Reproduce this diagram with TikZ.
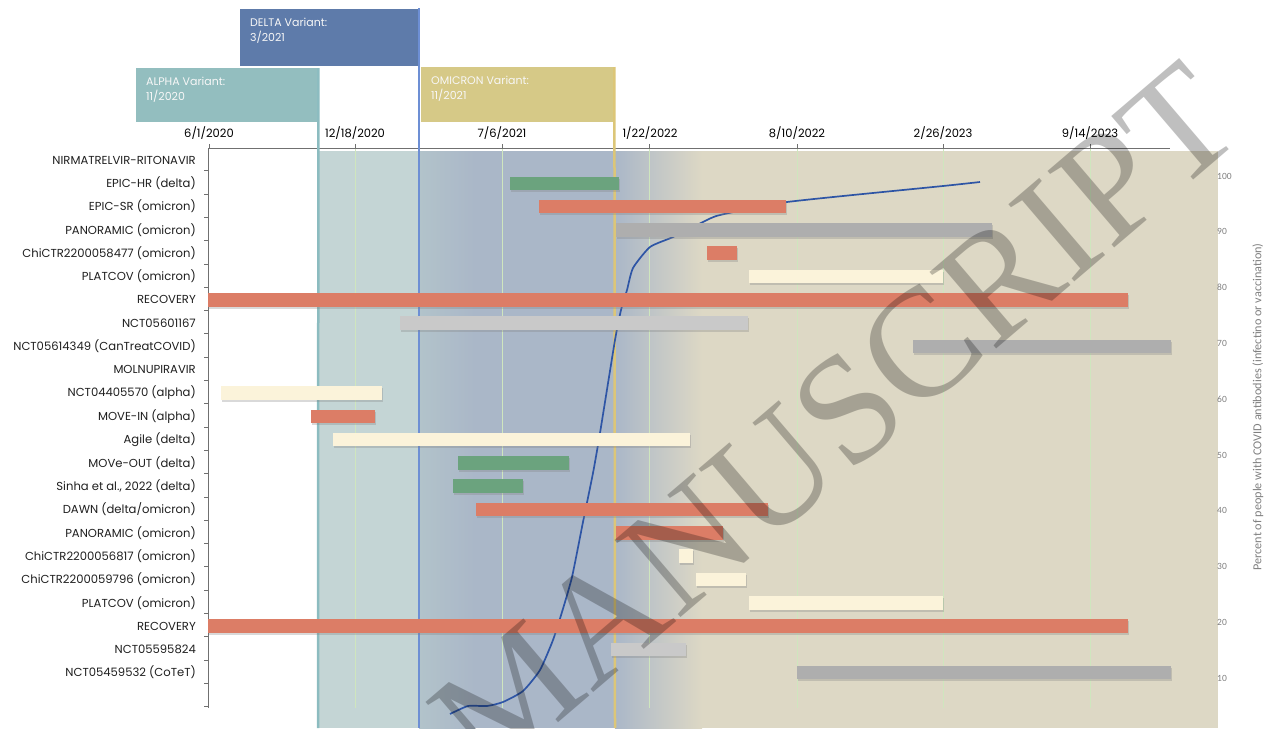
\documentclass[tikz,border=0pt]{standalone}
\usepackage{fontspec}
\setmainfont{Poppins}
\newfontfamily\carlito{Carlito}
\newfontfamily\wmfont{Liberation Serif}
\usetikzlibrary{shadows}
\definecolor{alphaC}{HTML}{93BEBF}
\definecolor{deltaC}{HTML}{5E7BAA}
\definecolor{omiC}{HTML}{D6C987}
\definecolor{alphaBg}{HTML}{C4D5D5}
\definecolor{deltaBgA}{HTML}{B2C3CA}
\definecolor{deltaBg}{HTML}{AAB7C8}
\definecolor{omiBg}{HTML}{DDD8C5}
\definecolor{alphaLine}{HTML}{8CBCC0}
\definecolor{deltaLine}{HTML}{6D8FD4}
\definecolor{omiLine}{HTML}{DCC678}
\definecolor{gridG}{HTML}{CFE6BE}
\definecolor{axisC}{HTML}{707070}
\definecolor{barO}{HTML}{DC7D66}
\definecolor{barG}{HTML}{6BA37E}
\definecolor{barY}{HTML}{AEAEAE}
\definecolor{barL}{HTML}{C9C9C9}
\definecolor{barC}{HTML}{FBF3DA}
\definecolor{curveC}{HTML}{2E55A5}
\definecolor{numC}{HTML}{808080}
\begin{document}
\begin{tikzpicture}[x=1pt,y=-1pt,
  rowlab/.style={anchor=east,inner sep=0,font=\fontsize{11.6}{12}\selectfont,text=black!88},
  datelab/.style={anchor=base,inner sep=0,font=\fontsize{11.5}{12}\selectfont},
  vbox/.style={anchor=north west,inner sep=0,draw=none},
  vtext/.style={anchor=north west,inner sep=0,align=left,text=white!94!gray,font=\fontsize{11}{15}\selectfont},
  bartype/.style={drop shadow={shadow xshift=1pt,shadow yshift=-2pt,opacity=0.3}},
  numlab/.style={anchor=west,inner sep=0,text=numC,font=\carlito\fontsize{9.5}{10}\selectfont},
]
\useasboundingbox (0,0) rectangle (1271,728);
% background regions
\fill[alphaBg] (318,151) rectangle (419,728);
\shade[left color=deltaBgA, right color=deltaBg] (419,151) rectangle (475,728);
\fill[deltaBg] (475,151) rectangle (615,728);
\shade[left color=deltaBg, right color=omiBg] (615,151) rectangle (702,728);
\fill[omiBg] (702,151) rectangle (1218,728);
% grid lines
\foreach \gx in {355,502,649,797,943,1090}
  \draw[gridG, line width=0.7] (\gx,149) -- (\gx,708);
% axes
\draw[axisC, line width=0.9] (208,148) -- (1170,148);
\foreach \gx in {209,355,502,649,797,943,1090}
  \draw[axisC, line width=0.8] (\gx,144) -- (\gx,148);
\draw[axisC, line width=0.9] (208,148) -- (208,708);
\foreach \k in {0,...,23}
  \draw[axisC, line width=0.8] (204,{170.7+23.3*\k}) -- (208,{170.7+23.3*\k});
% date labels
\node[datelab] (d1) at (209,137) {6/1/2020};
\node[datelab] (d2) at (355,137) {12/18/2020};
\node[datelab] (d3) at (502,137) {7/6/2021};
\node[datelab] (d4) at (650,137) {1/22/2022};
\node[datelab] (d5) at (797,137) {8/10/2022};
\node[datelab] (d6) at (943,137) {2/26/2023};
\node[datelab] (d7) at (1090,137) {9/14/2023};
% variant boxes
\node[vbox, fill=deltaC, minimum width=179, minimum height=57] (delta) at (240,9) {};
\node[vtext] (deltaT) at ([xshift=10pt,yshift=-9pt]delta.north west) {DELTA Variant:\\3/2021};
\node[vbox, fill=alphaC, minimum width=182, minimum height=54] (alpha) at (136,68) {};
\node[vtext] (alphaT) at ([xshift=10pt,yshift=-9pt]alpha.north west) {ALPHA Variant:\\11/2020};
\node[vbox, fill=omiC, minimum width=193, minimum height=55] (omi) at (421,67) {};
\node[vtext] (omiT) at ([xshift=10pt,yshift=-9pt]omi.north west) {OMICRON Variant:\\11/2021};
% variant lines
\draw[alphaLine, line width=2.5] (alpha.north east) -- (318,728);
\draw[deltaLine, line width=2] (419,8) -- (419,728);
\draw[omiLine, line width=2.5] (omi.north east) -- (615,728);
% curve
\draw[curveC, line width=1.7, smooth, tension=0.35] plot coordinates {
 (450,714) (468,706) (487,706) (503,702) (523,691) (540,670) (553,640) (562,612)
 (572,577) (583,522) (593,473) (600,433) (615,340) (621,310) (627,290) (633,268)
 (650,247) (673,237) (703,222) (720,215) (787,202) (943,186) (980,182)};
% row labels
\foreach \lab [count=\i from 0] in {NIRMATRELVIR-RITONAVIR, EPIC-HR (delta), EPIC-SR (omicron),
  PANORAMIC (omicron), ChiCTR2200058477 (omicron), PLATCOV (omicron), RECOVERY, NCT05601167,
  NCT05614349 (CanTreatCOVID), MOLNUPIRAVIR, NCT04405570 (alpha), MOVE-IN (alpha), Agile (delta),
  MOVe-OUT (delta), {Sinha et al., 2022 (delta)}, DAWN (delta/omicron), PANORAMIC (omicron),
  ChiCTR2200056817 (omicron), ChiCTR2200059796 (omicron), PLATCOV (omicron), RECOVERY,
  NCT05595824, NCT05459532 (CoTeT)}
  \node[rowlab] (row\i) at (196,{160+23.3*\i}) {\lab};
% bars
\foreach \r/\a/\b/\c in {1/510/619/barG, 2/539/786/barO, 3/616/992/barY, 4/707/737/barO,
  5/749/943/barC, 6/208/1128/barO, 7/400/748/barL, 8/913/1171/barY, 10/221/382/barC,
  11/311/375/barO, 12/333/690/barC, 13/458/569/barG, 14/453/523/barG, 15/476/768/barO,
  16/616/723/barO, 17/679/693/barC, 18/696/746/barC, 19/749/943/barC, 20/208/1128/barO,
  21/611/686/barL, 22/797/1171/barY}
  \fill[\c, bartype] (\a,{160+23.3*\r-6.8}) rectangle (\b,{160+23.3*\r+6.8});
% right axis
\foreach \v in {10,20,...,100}
  \node[numlab] (n\v) at (1217,{176+(100-\v)*5.58}) {\v};
\node[rotate=90, inner sep=0, text=numC, font=\carlito\fontsize{12.2}{12}\selectfont] (ytitle) at (1258,407)
  {Percent of people with COVID antibodies (infectino or vaccination)};
% watermark
\node[rotate=40.5, inner sep=0, text=black, text opacity=0.25, font=\wmfont\fontsize{155}{155}\selectfont] (wm) at (835,420) {MANUSCRIPT};
\end{tikzpicture}
\end{document}
